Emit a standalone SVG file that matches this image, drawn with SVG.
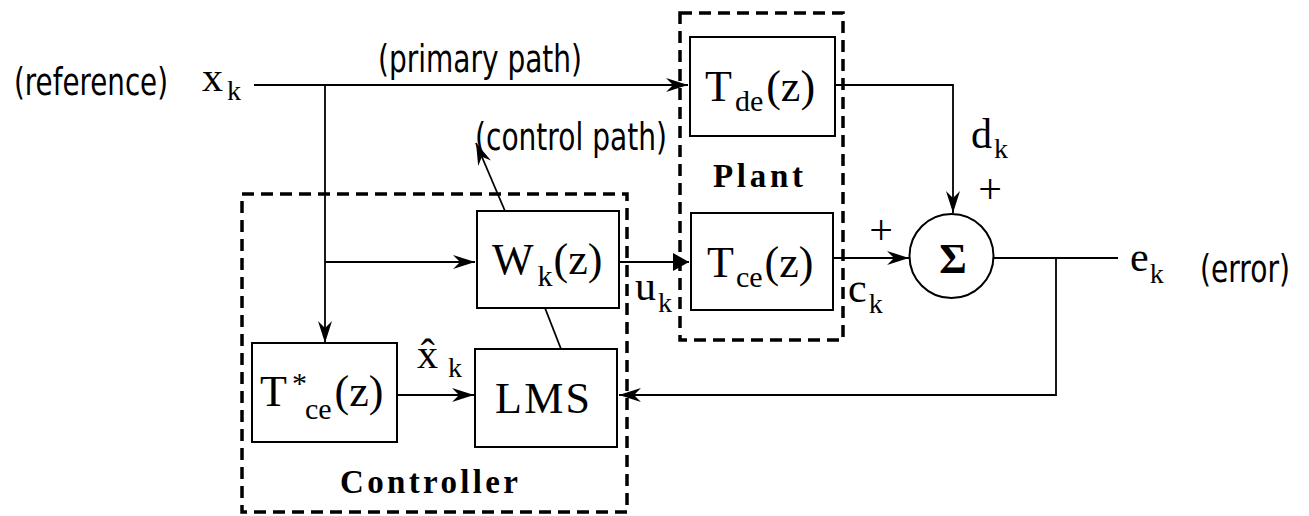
<svg xmlns="http://www.w3.org/2000/svg" width="1309" height="516" viewBox="0 0 1309 516">
<style>
.box{fill:#fff;stroke:#000;stroke-width:2}
.dash{fill:none;stroke:#000;stroke-width:3.5;stroke-dasharray:12 7}
.ln{fill:none;stroke:#000;stroke-width:1.8}
.ser{font-family:"Liberation Serif","Times New Roman",serif;font-size:42px;fill:#000}
.big{font-size:44px}
.sub{font-size:28px}
.bsub{font-size:30px}
.sans{font-family:"DejaVu Sans",Verdana,sans-serif;font-size:28px;fill:#000}
.bold{font-family:"Liberation Serif","Times New Roman",serif;font-weight:bold;font-size:33px;fill:#000}
</style>
<defs>
<marker id="barb" markerUnits="userSpaceOnUse" viewBox="0 0 22 14" refX="22" refY="7" markerWidth="22" markerHeight="14" orient="auto">
<path d="M22,7 L0,0 L7,7 L0,14 Z" fill="#000"/>
</marker>
<marker id="tri" markerUnits="userSpaceOnUse" viewBox="0 0 16 18" refX="16" refY="9" markerWidth="16" markerHeight="18" orient="auto">
<path d="M0,0 L16,9 L0,18 Z" fill="#000"/>
</marker>
</defs>
<rect width="1309" height="516" fill="#fff"/>

<g id="plant-group">
<rect class="dash" x="680" y="13" width="163" height="327"/>
<text class="bold" x="713" y="187" textLength="90" lengthAdjust="spacing">Plant</text>
</g>
<g id="controller-group">
<rect class="dash" x="242" y="194" width="385" height="318"/>
<text class="bold" x="340" y="493" textLength="178" lengthAdjust="spacing">Controller</text>
</g>

<g id="connectors">
<path class="ln" d="M254,85 H688" marker-end="url(#barb)"/>
<path class="ln" d="M325,85 V343" marker-end="url(#barb)"/>
<path class="ln" d="M325,262 H475" marker-end="url(#barb)"/>
<path class="ln" d="M619,262 H689" marker-end="url(#tri)"/>
<path class="ln" d="M835,85 H953 V213" marker-end="url(#barb)"/>
<path class="ln" d="M834,258 H909" marker-end="url(#barb)"/>
<path class="ln" d="M993,258 H1118"/>
<path class="ln" d="M1056,258 V395 H619" marker-end="url(#barb)"/>
<path class="ln" d="M397,395 H474" marker-end="url(#barb)"/>
<path class="ln" d="M505,211 L476,143" marker-end="url(#barb)"/>
<path class="ln" d="M545,308 L561,349"/>
</g>

<g id="Tde">
<rect class="box" x="690" y="37" width="145" height="99"/>
<text class="ser big" x="705" y="101">T<tspan class="bsub" dx="3" dy="10">de</tspan><tspan dx="3" dy="-10">(z)</tspan></text>
</g>
<g id="Tce">
<rect class="box" x="691" y="213" width="142" height="97"/>
<text class="ser big" x="707" y="277">T<tspan class="bsub" dx="2" dy="10">ce</tspan><tspan dx="2" dy="-10">(z)</tspan></text>
</g>
<g id="Wk">
<rect class="box" x="477" y="211" width="142" height="97"/>
<text class="ser big" x="492" y="274">W<tspan class="bsub" dx="4" dy="12">k</tspan><tspan dx="1" dy="-12">(z)</tspan></text>
</g>
<g id="Tstar">
<rect class="box" x="252" y="343" width="145" height="99"/>
<text class="ser big" x="260" y="406">T<tspan class="bsub" dx="5" dy="-13">*</tspan><tspan class="bsub" dx="-2" dy="26">ce</tspan><tspan dx="3" dy="-13">(z)</tspan></text>
</g>
<g id="LMS">
<rect class="box" x="475" y="349" width="142" height="98"/>
<text class="ser big" x="495" y="413" textLength="95" lengthAdjust="spacing">LMS</text>
</g>
<g id="sum">
<circle cx="951.5" cy="256" r="42" fill="#fff" stroke="#000" stroke-width="2"/>
<text class="ser" x="953" y="273" text-anchor="middle" font-size="38" font-weight="bold">Σ</text>
</g>

<g id="labels">
<text class="sans" transform="translate(14,95) scale(1,1.33)" textLength="154" lengthAdjust="spacingAndGlyphs">(reference)</text>
<text class="ser" x="202" y="91">x<tspan class="sub" dx="4" dy="9">k</tspan></text>
<text class="sans" transform="translate(378,72) scale(1,1.33)" textLength="204" lengthAdjust="spacingAndGlyphs">(primary path)</text>
<text class="sans" transform="translate(475,150) scale(1,1.33)" textLength="192" lengthAdjust="spacingAndGlyphs">(control path)</text>
<text class="ser" x="971" y="148">d<tspan class="sub" dx="2" dy="10">k</tspan></text>
<text class="ser" x="990" y="203" font-size="38" text-anchor="middle">+</text>
<text class="ser" x="881" y="244" font-size="38" text-anchor="middle">+</text>
<text class="ser" x="635" y="300">u<tspan class="sub" dx="2" dy="12">k</tspan></text>
<text class="ser" x="848" y="302">c<tspan class="sub" dx="2" dy="11">k</tspan></text>
<text class="ser" x="1130" y="271">e<tspan class="sub" dx="1" dy="12">k</tspan></text>
<text class="sans" transform="translate(1200,282) scale(1,1.33)" textLength="90" lengthAdjust="spacingAndGlyphs">(error)</text>
<text class="ser" x="417" y="368">x̂<tspan class="sub" dx="10" dy="9">k</tspan></text>
</g>
</svg>
